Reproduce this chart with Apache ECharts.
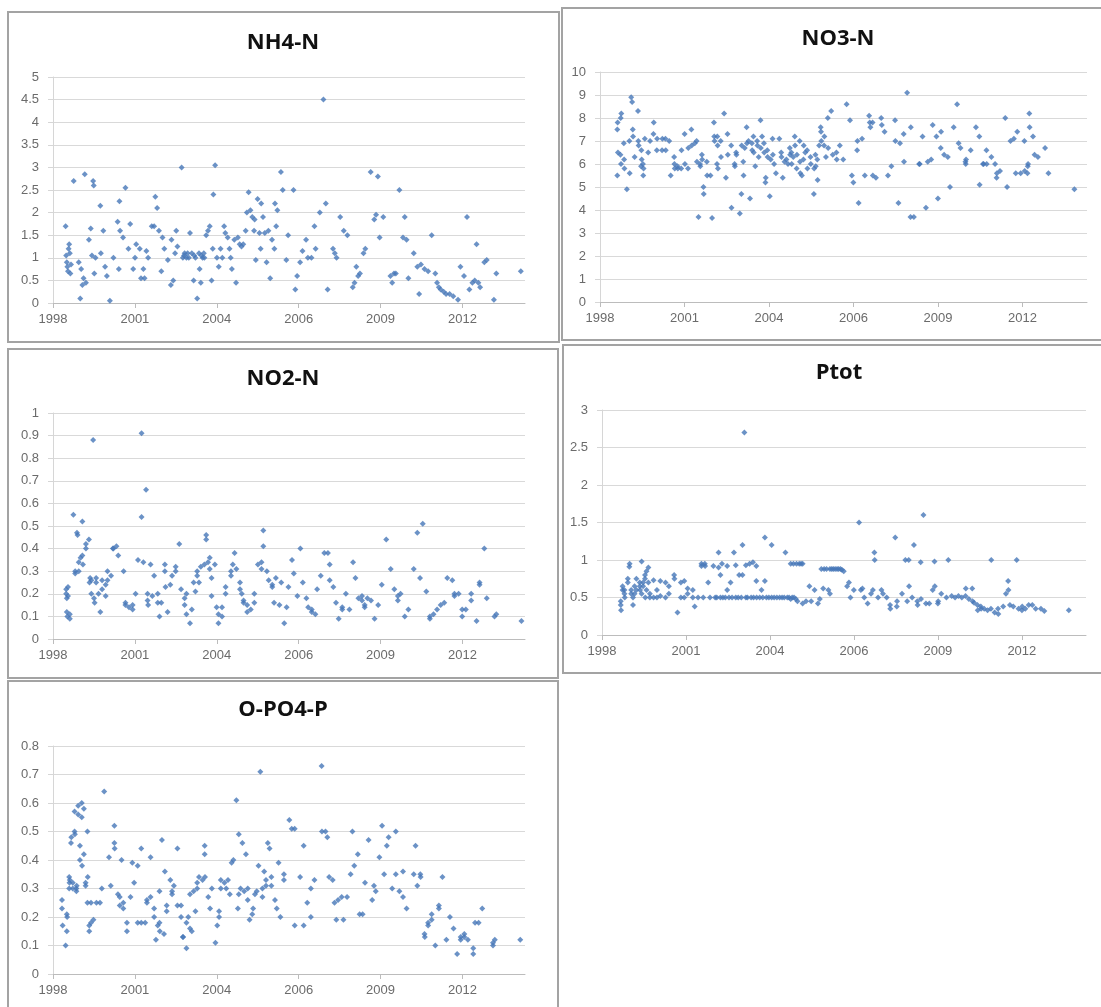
<!DOCTYPE html>
<html><head><meta charset="utf-8">
<script src="https://cdn.jsdelivr.net/npm/echarts@6/dist/echarts.min.js"></script>
<style>html,body{margin:0;padding:0;background:#fff}#c{width:1101px;height:1007px}</style>
</head><body><div id="c"></div>
<script>
// ---- data: [decimal year, value] ----
const NH4_N = [
[1998.98,1.7],[1999.0,1.05],[1999.02,0.9],[1999.04,0.8],[1999.06,0.7],[1999.08,1.2],[1999.1,1.3],[1999.12,1.1],[1999.14,0.65],[1999.16,0.85],
[1999.25,2.7],[1999.42,0.9],[1999.47,0.1],[1999.5,0.75],[1999.54,0.4],[1999.58,0.55],[1999.62,2.85],[1999.66,0.45],
[1999.76,1.4],[1999.82,1.65],[1999.86,1.05],[1999.9,2.7],[1999.92,2.6],[1999.94,0.65],[1999.98,1.0],
[2000.14,2.15],[2000.16,1.1],[2000.24,1.6],[2000.3,0.8],[2000.36,0.6],[2000.46,0.05],[2000.58,1.0],
[2000.72,1.8],[2000.76,0.75],[2000.78,2.25],[2000.8,1.6],[2000.9,1.45],[2000.98,2.55],[2001.08,1.2],[2001.14,1.75],[2001.24,0.75],[2001.3,1.0],[2001.34,1.3],[2001.46,1.2],[2001.5,0.55],[2001.58,0.75],[2001.62,0.55],[2001.68,1.15],[2001.74,1.0],
[2001.86,1.7],[2001.94,1.7],[2001.98,2.35],[2002.04,2.1],[2002.1,1.6],[2002.18,0.7],[2002.22,1.45],[2002.28,1.2],[2002.4,0.95],[2002.5,0.4],[2002.52,1.4],[2002.58,0.5],[2002.64,1.1],[2002.68,1.6],[2002.72,1.25],[2002.86,3.0],[2002.9,1.0],[2002.94,1.05],[2002.96,1.1],[2003.02,1.0],[2003.06,1.1],[2003.1,1.0],[2003.14,1.55],[2003.2,1.1],[2003.26,0.5],[2003.28,1.05],[2003.32,1.0],[2003.38,0.1],[2003.44,1.1],[2003.46,0.75],[2003.5,0.45],[2003.52,1.05],[2003.56,1.0],[2003.6,1.1],[2003.62,1.0],[2003.68,1.5],[2003.74,1.6],[2003.8,1.7],[2003.86,0.5],[2003.9,1.2],[2003.92,2.4],[2003.98,3.05],
[2004.04,1.0],[2004.1,0.8],[2004.16,1.2],[2004.22,1.0],[2004.28,1.7],[2004.32,1.55],[2004.4,1.45],[2004.46,1.2],[2004.5,1.0],[2004.54,0.75],[2004.62,1.4],[2004.68,0.45],[2004.74,1.45],[2004.8,1.3],[2004.86,1.25],[2004.92,1.3],[2005.0,1.6],[2005.04,2.0],[2005.1,2.45],[2005.16,2.05],[2005.22,1.9],[2005.28,1.6],[2005.3,1.85],[2005.34,0.95],[2005.4,2.3],[2005.46,1.55],[2005.5,1.2],[2005.52,2.2],[2005.58,1.9],[2005.64,1.55],[2005.7,0.9],[2005.76,1.6],[2005.82,0.55],[2005.88,1.4],[2005.96,1.2],[2005.98,2.2],
[2006.02,1.7],[2006.06,2.05],[2006.18,2.9],[2006.24,2.5],[2006.36,0.95],[2006.42,1.5],[2006.6,2.5],[2006.66,0.3],[2006.72,0.6],[2006.82,0.9],[2006.9,1.15],[2007.02,1.4],[2007.08,1.0],[2007.2,1.0],[2007.3,1.7],[2007.34,1.2],[2007.48,2.0],[2007.6,4.5],[2007.68,2.2],[2007.74,0.3],[2007.92,1.2],[2007.98,1.1],[2008.04,1.0],[2008.16,1.9],[2008.28,1.6],[2008.4,1.5],[2008.58,0.35],[2008.64,0.45],[2008.7,0.8],[2008.76,0.6],[2008.82,0.65],[2008.94,1.1],
[2009.0,1.2],[2009.18,2.9],[2009.3,1.85],[2009.36,1.95],[2009.42,2.8],[2009.48,1.45],[2009.6,1.9],[2009.84,0.6],[2009.9,0.45],[2009.96,0.65],[2010.02,0.65],[2010.14,2.5],[2010.26,1.45],[2010.32,1.9],[2010.38,1.4],[2010.44,0.55],[2010.62,1.1],[2010.74,0.8],[2010.8,0.2],[2010.86,0.85],[2010.98,0.75],[2011.1,0.7],[2011.22,1.5],[2011.34,0.65],[2011.4,0.45],[2011.46,0.35],[2011.52,0.3],[2011.62,0.25],[2011.7,0.2],[2011.82,0.2],[2011.94,0.15],
[2012.1,0.07],[2012.18,0.8],[2012.3,0.6],[2012.4,1.9],[2012.48,0.3],[2012.58,0.45],[2012.66,0.5],[2012.72,1.3],[2012.78,0.45],[2012.84,0.35],[2012.98,0.9],[2013.06,0.95],[2013.3,0.07],[2013.38,0.65],[2014.2,0.7]
];

const NO3_N = [
[1999.12,7.5],[1999.13,7.8],[1999.14,6.5],[1999.12,5.5],[1999.23,8.0],[1999.25,8.2],[1999.22,6.4],[1999.24,6.0],[1999.34,6.2],[1999.35,5.8],[1999.33,6.9],
[1999.43,4.9],[1999.51,7.0],[1999.52,5.6],[1999.57,8.9],[1999.6,8.7],[1999.62,7.5],[1999.63,7.2],[1999.68,6.3],[1999.79,8.3],[1999.8,7.0],[1999.81,6.8],[1999.9,6.6],[1999.91,6.2],[1999.89,5.9],[1999.96,5.5],[1999.97,5.8],[1999.95,6.0],
[2000.01,7.1],[2000.12,6.5],[2000.18,7.0],[2000.29,7.3],[2000.3,7.8],[2000.4,6.6],[2000.41,7.1],[2000.57,6.6],[2000.58,7.1],[2000.68,7.1],[2000.69,6.6],[2000.8,7.0],[2000.85,5.5],[2000.96,6.3],[2000.97,6.0],[2000.98,5.8],
[2001.07,5.9],[2001.08,5.8],[2001.19,5.8],[2001.2,6.6],[2001.3,7.3],[2001.31,6.0],[2001.41,5.8],[2001.42,6.7],[2001.52,7.5],[2001.53,6.8],[2001.63,6.9],[2001.69,7.0],[2001.7,6.1],[2001.75,3.7],[2001.8,6.0],[2001.81,5.9],[2001.86,6.4],[2001.87,6.2],[2001.91,5.0],[2001.92,4.7],
[2002.02,6.1],[2002.03,5.5],[2002.14,5.5],[2002.19,3.65],[2002.25,7.8],[2002.26,7.2],[2002.27,7.0],[2002.36,7.2],[2002.37,6.8],[2002.35,6.0],[2002.38,5.8],[2002.47,7.0],[2002.48,6.3],[2002.58,8.2],[2002.64,5.4],[2002.69,7.3],[2002.7,6.4],[2002.81,6.8],[2002.82,4.1],[2002.92,6.0],[2002.93,5.9],[2002.97,6.5],[2002.98,6.4],
[2003.09,3.85],[2003.14,4.7],[2003.15,6.8],[2003.2,6.1],[2003.21,5.5],[2003.25,6.7],[2003.31,7.6],[2003.32,6.9],[2003.37,7.0],[2003.42,4.5],[2003.48,6.9],[2003.49,6.6],[2003.53,7.2],[2003.54,6.5],[2003.59,5.9],[2003.65,7.0],[2003.66,6.8],[2003.7,6.3],[2003.76,7.9],[2003.77,6.7],[2003.81,7.2],[2003.87,6.9],[2003.88,6.5],[2003.92,5.2],[2003.93,5.4],[2003.98,6.6],[2003.99,6.3],
[2004.06,4.6],[2004.09,6.2],[2004.15,7.1],[2004.16,6.4],[2004.2,6.0],[2004.26,5.6],[2004.37,7.1],[2004.43,6.5],[2004.44,6.3],[2004.48,5.4],[2004.54,6.1],[2004.6,6.2],[2004.65,6.0],[2004.71,6.7],[2004.72,6.4],[2004.76,6.5],[2004.77,6.0],[2004.82,6.3],[2004.87,7.2],[2004.88,6.8],[2004.93,5.8],[2004.94,6.4],
[2005.04,6.1],[2005.05,5.6],[2005.03,7.0],[2005.1,5.5],[2005.15,6.2],[2005.16,6.8],[2005.21,6.5],[2005.27,6.6],[2005.28,5.8],[2005.38,6.3],[2005.39,6.0],[2005.49,4.7],[2005.5,5.8],[2005.54,6.4],[2005.55,5.9],[2005.6,6.2],[2005.61,5.3],[2005.66,6.8],[2005.71,7.6],[2005.72,7.4],[2005.73,7.0],[2005.82,6.8],[2005.83,7.2],[2005.88,6.3],[2005.94,8.0],[2005.95,6.7],
[2006.05,8.3],[2006.1,6.4],[2006.22,6.5],[2006.23,6.2],[2006.33,6.8],[2006.44,6.2],[2006.55,8.6],[2006.66,7.9],[2006.72,5.5],[2006.77,5.2],[2006.89,6.6],[2006.9,7.0],[2006.94,4.3],[2007.05,7.1],[2007.14,5.5],[2007.28,8.1],[2007.3,7.8],[2007.32,7.6],[2007.39,7.8],[2007.4,5.5],[2007.5,5.4],[2007.67,8.0],[2007.69,7.7],[2007.78,7.4],[2007.89,5.5],
[2008.0,5.9],[2008.12,7.9],[2008.13,7.0],[2008.23,4.3],[2008.28,6.9],[2008.4,7.3],[2008.41,6.1],[2008.51,9.1],[2008.62,3.7],[2008.63,7.6],[2008.73,3.7],[2008.9,6.0],[2008.92,6.0],
[2009.01,7.2],[2009.12,4.1],[2009.18,6.1],[2009.29,6.2],[2009.34,7.7],[2009.46,7.2],[2009.51,4.5],[2009.6,6.7],[2009.61,7.4],[2009.71,6.4],[2009.83,6.3],[2009.9,5.0],
[2010.02,7.6],[2010.13,8.6],[2010.18,6.9],[2010.24,6.7],[2010.4,6.1],[2010.41,6.0],[2010.42,6.2],[2010.57,6.6],[2010.74,7.6],[2010.85,7.2],[2010.86,5.1],[2010.97,6.0],[2010.99,6.0],
[2011.08,6.6],[2011.09,6.0],[2011.24,6.3],[2011.36,6.0],[2011.41,5.4],[2011.42,5.6],[2011.52,5.7],[2011.69,8.0],[2011.75,5.0],[2011.86,7.0],[2011.97,7.1],
[2012.03,5.6],[2012.08,7.4],[2012.19,5.6],[2012.31,7.0],[2012.32,5.7],[2012.42,5.9],[2012.41,5.6],[2012.43,6.0],[2012.47,8.2],[2012.48,7.6],[2012.59,7.2],[2012.64,6.4],[2012.75,6.3],[2012.98,6.7],[2013.09,5.6],[2013.93,4.9]
];

const NO2_N = [
[1999.0,0.2],[1999.0,0.22],[1999.02,0.18],[1999.02,0.12],[1999.04,0.1],[1999.06,0.23],[1999.06,0.19],[1999.12,0.11],[1999.12,0.09],[1999.24,0.55],[1999.3,0.29],[1999.3,0.3],[1999.36,0.47],[1999.38,0.46],[1999.42,0.34],[1999.42,0.3],[1999.48,0.36],[1999.54,0.52],[1999.54,0.37],[1999.56,0.33],[1999.66,0.4],[1999.66,0.42],[1999.76,0.44],[1999.78,0.25],[1999.8,0.27],[1999.84,0.2],[1999.84,0.26],[1999.9,0.88],[1999.93,0.18],[1999.95,0.16],
[2000.0,0.27],[2000.0,0.25],[2000.08,0.2],[2000.14,0.12],[2000.2,0.22],[2000.2,0.26],[2000.32,0.24],[2000.32,0.19],[2000.38,0.26],[2000.38,0.3],[2000.5,0.28],[2000.56,0.4],[2000.58,0.4],[2000.68,0.41],[2000.74,0.37],[2000.92,0.3],[2000.98,0.16],[2000.98,0.15],
[2001.1,0.14],[2001.22,0.15],[2001.22,0.13],[2001.32,0.2],[2001.4,0.35],[2001.52,0.91],[2001.52,0.54],[2001.58,0.34],[2001.67,0.66],[2001.72,0.2],[2001.72,0.17],[2001.74,0.15],[2001.82,0.33],[2001.88,0.19],[2001.94,0.28],
[2002.06,0.2],[2002.06,0.16],[2002.12,0.1],[2002.18,0.16],[2002.3,0.3],[2002.3,0.33],[2002.32,0.23],[2002.39,0.12],[2002.48,0.24],[2002.54,0.28],[2002.66,0.32],[2002.66,0.3],[2002.78,0.42],[2002.84,0.22],[2002.96,0.18],[2002.96,0.15],
[2003.02,0.2],[2003.02,0.11],[2003.14,0.07],[2003.2,0.13],[2003.26,0.25],[2003.32,0.21],[2003.38,0.28],[2003.38,0.3],[2003.44,0.25],[2003.5,0.32],[2003.62,0.33],[2003.68,0.46],[2003.68,0.44],[2003.74,0.34],[2003.8,0.36],[2003.8,0.31],[2003.86,0.27],[2003.86,0.19],[2003.97,0.33],
[2004.03,0.14],[2004.09,0.11],[2004.09,0.07],[2004.21,0.14],[2004.21,0.1],[2004.33,0.23],[2004.33,0.2],[2004.51,0.3],[2004.51,0.28],[2004.57,0.33],[2004.63,0.38],[2004.69,0.31],[2004.81,0.25],[2004.81,0.22],[2004.87,0.2],[2004.93,0.16],[2004.93,0.17],
[2005.05,0.15],[2005.05,0.12],[2005.17,0.13],[2005.29,0.2],[2005.29,0.16],[2005.41,0.33],[2005.53,0.34],[2005.53,0.31],[2005.59,0.48],[2005.59,0.41],[2005.71,0.3],[2005.77,0.26],[2005.89,0.24],[2005.89,0.23],[2005.95,0.16],
[2006.01,0.27],[2006.13,0.15],[2006.19,0.25],[2006.29,0.07],[2006.37,0.14],[2006.43,0.23],[2006.55,0.35],[2006.61,0.29],[2006.73,0.19],[2006.83,0.4],[2006.91,0.25],
[2007.03,0.18],[2007.09,0.14],[2007.21,0.12],[2007.21,0.13],[2007.33,0.11],[2007.39,0.22],[2007.51,0.28],[2007.63,0.38],[2007.75,0.38],[2007.81,0.26],[2007.81,0.33],[2007.93,0.23],
[2008.02,0.16],[2008.11,0.09],[2008.23,0.14],[2008.23,0.13],[2008.35,0.2],[2008.47,0.13],[2008.59,0.34],[2008.67,0.27],[2008.77,0.18],[2008.89,0.19],[2008.89,0.17],[2008.98,0.14],[2008.98,0.15],
[2009.07,0.18],[2009.19,0.17],[2009.31,0.09],[2009.43,0.15],[2009.55,0.24],[2009.7,0.44],[2009.85,0.31],[2009.97,0.22],
[2010.09,0.19],[2010.09,0.17],[2010.18,0.2],[2010.32,0.1],[2010.44,0.13],[2010.62,0.31],[2010.74,0.47],[2010.83,0.27],[2010.92,0.51],
[2011.04,0.21],[2011.16,0.1],[2011.16,0.09],[2011.28,0.11],[2011.4,0.13],[2011.52,0.15],[2011.64,0.16],[2011.74,0.27],[2011.91,0.26],[2011.98,0.19],[2011.98,0.2],
[2012.12,0.2],[2012.24,0.13],[2012.24,0.1],[2012.36,0.13],[2012.54,0.17],[2012.54,0.2],[2012.72,0.08],[2012.82,0.25],[2012.82,0.24],[2012.98,0.4],[2013.06,0.18],[2013.32,0.1],[2013.38,0.11],[2014.22,0.08]
];

const PTOT = [
[1999.17,0.45],[1999.17,0.4],[1999.18,0.33],[1999.23,0.65],[1999.23,0.6],[1999.29,0.55],[1999.29,0.6],[1999.3,0.5],[1999.4,0.7],[1999.4,0.75],[1999.45,0.91],[1999.46,0.95],[1999.51,0.55],[1999.51,0.6],[1999.57,0.5],[1999.57,0.4],[1999.62,0.65],[1999.62,0.55],[1999.68,0.6],[1999.68,0.75],[1999.79,0.7],[1999.79,0.65],[1999.8,0.6],[1999.85,0.98],[1999.85,0.55],[1999.9,0.7],[1999.9,0.65],[1999.96,0.8],[1999.96,0.75],[1999.97,0.5],
[2000.01,0.85],[2000.01,0.6],[2000.07,0.9],[2000.07,0.7],[2000.12,0.55],[2000.12,0.5],[2000.24,0.73],[2000.24,0.5],[2000.35,0.6],[2000.35,0.5],[2000.46,0.72],[2000.46,0.52],[2000.63,0.7],[2000.63,0.5],[2000.74,0.65],[2000.74,0.55],[2000.91,0.8],[2000.92,0.75],
[2001.02,0.3],[2001.13,0.7],[2001.13,0.5],[2001.24,0.72],[2001.24,0.5],[2001.35,0.62],[2001.35,0.55],[2001.52,0.6],[2001.52,0.5],[2001.58,0.38],[2001.69,0.5],[2001.8,0.92],[2001.8,0.95],[2001.86,0.5],[2001.91,0.95],[2001.92,0.92],
[2002.02,0.7],[2002.08,0.5],[2002.19,0.92],[2002.25,0.5],[2002.3,0.5],[2002.36,1.1],[2002.36,0.9],[2002.42,0.5],[2002.42,0.8],[2002.47,0.95],[2002.5,0.5],[2002.58,0.5],[2002.64,0.92],[2002.64,0.6],[2002.7,0.5],[2002.75,0.7],[2002.8,0.5],[2002.86,1.1],[2002.92,0.93],[2002.92,0.5],
[2003.0,0.5],[2003.03,0.8],[2003.1,0.5],[2003.14,1.2],[2003.14,0.8],[2003.2,2.7],[2003.25,0.93],[2003.25,0.5],[2003.3,0.5],[2003.37,0.95],[2003.42,0.5],[2003.48,0.97],[2003.5,0.5],[2003.59,0.92],[2003.59,0.72],[2003.6,0.5],[2003.7,0.5],[2003.76,0.6],[2003.8,0.5],[2003.87,1.3],[2003.87,0.72],[2003.92,0.5],
[2004.0,0.5],[2004.09,1.2],[2004.09,0.5],[2004.17,0.5],[2004.26,0.5],[2004.35,0.5],[2004.43,0.5],[2004.5,0.5],[2004.54,1.1],[2004.6,0.5],[2004.66,0.5],[2004.71,0.95],[2004.71,0.48],[2004.76,0.5],[2004.8,0.95],[2004.82,0.5],[2004.88,0.48],[2004.9,0.95],[2004.93,0.45],[2004.99,0.95],
[2005.05,0.95],[2005.1,0.95],[2005.1,0.42],[2005.21,0.45],[2005.32,0.65],[2005.38,0.45],[2005.49,0.6],[2005.6,0.42],[2005.66,0.48],[2005.71,0.88],[2005.77,0.62],[2005.8,0.88],[2005.88,0.88],[2005.94,0.6],[2005.99,0.55],[2005.99,0.88],
[2006.05,0.88],[2006.1,0.88],[2006.16,0.88],[2006.22,0.88],[2006.27,0.88],[2006.33,0.88],[2006.38,0.87],[2006.44,0.85],[2006.55,0.65],[2006.61,0.7],[2006.66,0.5],[2006.77,0.6],[2006.94,1.5],
[2007.0,0.6],[2007.05,0.62],[2007.11,0.5],[2007.22,0.42],[2007.33,0.55],[2007.39,0.6],[2007.44,1.1],[2007.45,1.0],[2007.56,0.5],[2007.67,0.6],[2007.72,0.55],[2007.84,0.5],[2007.95,0.4],[2007.96,0.35],
[2008.12,1.3],[2008.17,0.38],[2008.18,0.45],[2008.34,0.55],[2008.45,1.0],[2008.51,0.45],[2008.56,1.0],[2008.57,0.65],[2008.67,0.5],[2008.73,1.2],[2008.84,0.45],[2008.85,0.4],[2008.95,0.97],[2008.96,0.48],
[2009.04,1.6],[2009.12,0.42],[2009.23,0.42],[2009.34,0.6],[2009.4,0.98],[2009.41,0.65],[2009.51,0.42],[2009.52,0.45],[2009.62,0.55],[2009.79,0.5],[2009.85,1.0],[2009.96,0.52],
[2010.07,0.5],[2010.18,0.52],[2010.29,0.5],[2010.41,0.52],[2010.42,0.62],[2010.52,0.48],[2010.63,0.62],[2010.64,0.45],[2010.69,0.43],[2010.8,0.4],[2010.81,0.33],[2010.91,0.38],[2010.92,0.35],
[2011.02,0.35],[2011.13,0.33],[2011.24,0.35],[2011.25,1.0],[2011.36,0.3],[2011.47,0.35],[2011.48,0.28],[2011.64,0.38],[2011.73,0.55],[2011.8,0.72],[2011.81,0.6],[2011.86,0.4],[2011.97,0.38],
[2012.08,1.0],[2012.14,0.35],[2012.25,0.33],[2012.26,0.38],[2012.36,0.35],[2012.47,0.4],[2012.59,0.4],[2012.7,0.35],[2012.87,0.35],[2012.98,0.32],[2013.78,0.33]
];

const O_PO4_P = [
[1998.86,0.26],[1998.86,0.23],[1998.88,0.17],[1998.98,0.1],[1999.02,0.15],[1999.02,0.21],[1999.03,0.2],[1999.1,0.3],[1999.1,0.34],[1999.11,0.32],[1999.12,0.33],[1999.16,0.46],[1999.17,0.48],[1999.22,0.32],[1999.22,0.3],[1999.28,0.57],[1999.28,0.5],[1999.29,0.49],[1999.34,0.29],[1999.34,0.3],[1999.35,0.31],[1999.4,0.59],[1999.4,0.56],[1999.46,0.4],[1999.46,0.45],[1999.52,0.55],[1999.52,0.6],[1999.53,0.38],[1999.59,0.58],[1999.59,0.42],[1999.65,0.31],[1999.65,0.32],[1999.71,0.5],[1999.71,0.25],[1999.72,0.34],[1999.77,0.17],[1999.77,0.15],[1999.83,0.18],[1999.83,0.25],[1999.91,0.19],
[2000.01,0.25],[2000.13,0.25],[2000.19,0.3],[2000.27,0.64],[2000.43,0.41],[2000.49,0.31],[2000.61,0.52],[2000.61,0.46],[2000.62,0.44],[2000.73,0.28],[2000.79,0.27],[2000.79,0.24],[2000.85,0.4],[2000.91,0.23],[2000.91,0.25],
[2001.03,0.15],[2001.03,0.18],[2001.15,0.27],[2001.21,0.39],[2001.27,0.32],[2001.39,0.38],[2001.39,0.18],[2001.51,0.44],[2001.51,0.18],[2001.64,0.18],[2001.7,0.26],[2001.7,0.25],[2001.82,0.41],[2001.82,0.27],[2001.94,0.2],[2001.94,0.23],
[2002.0,0.12],[2002.06,0.17],[2002.12,0.18],[2002.12,0.29],[2002.13,0.15],[2002.2,0.47],[2002.27,0.14],[2002.3,0.36],[2002.36,0.22],[2002.36,0.24],[2002.48,0.33],[2002.54,0.29],[2002.54,0.28],[2002.6,0.31],[2002.72,0.44],[2002.72,0.24],[2002.84,0.2],[2002.84,0.24],[2002.9,0.13],[2002.91,0.13],
[2003.02,0.09],[2003.02,0.18],[2003.08,0.2],[2003.14,0.28],[2003.14,0.16],[2003.2,0.15],[2003.26,0.29],[2003.32,0.22],[2003.38,0.3],[2003.38,0.32],[2003.44,0.34],[2003.56,0.33],[2003.63,0.45],[2003.63,0.42],[2003.64,0.34],[2003.75,0.27],[2003.81,0.23],[2003.87,0.3],[2003.99,0.11],
[2004.05,0.17],[2004.11,0.2],[2004.11,0.22],[2004.17,0.33],[2004.17,0.3],[2004.29,0.32],[2004.35,0.3],[2004.41,0.33],[2004.47,0.28],[2004.53,0.39],[2004.59,0.4],[2004.69,0.61],[2004.74,0.23],[2004.77,0.49],[2004.77,0.28],[2004.83,0.3],[2004.89,0.46],[2004.95,0.29],
[2005.01,0.42],[2005.07,0.3],[2005.07,0.26],[2005.13,0.19],[2005.22,0.21],[2005.25,0.23],[2005.31,0.28],[2005.37,0.29],[2005.43,0.38],[2005.49,0.71],[2005.56,0.3],[2005.56,0.27],[2005.62,0.36],[2005.68,0.33],[2005.68,0.31],[2005.74,0.46],[2005.8,0.44],[2005.86,0.31],[2005.86,0.34],[2005.98,0.26],
[2006.04,0.23],[2006.1,0.39],[2006.16,0.2],[2006.28,0.35],[2006.28,0.33],[2006.46,0.54],[2006.54,0.51],[2006.64,0.51],[2006.64,0.17],[2006.82,0.34],[2006.94,0.45],[2006.94,0.17],
[2007.06,0.25],[2007.18,0.3],[2007.18,0.2],[2007.3,0.33],[2007.54,0.73],[2007.55,0.5],[2007.67,0.5],[2007.73,0.48],[2007.79,0.34],[2007.91,0.33],[2007.97,0.25],
[2008.03,0.19],[2008.09,0.26],[2008.21,0.27],[2008.27,0.19],[2008.39,0.27],[2008.51,0.35],[2008.57,0.5],[2008.63,0.38],[2008.75,0.42],[2008.81,0.21],[2008.91,0.21],[2008.99,0.32],
[2009.11,0.47],[2009.23,0.26],[2009.29,0.31],[2009.35,0.29],[2009.47,0.41],[2009.56,0.52],[2009.63,0.35],[2009.72,0.45],[2009.78,0.48],[2009.9,0.3],
[2010.02,0.5],[2010.02,0.35],[2010.14,0.29],[2010.26,0.36],[2010.26,0.27],[2010.38,0.23],[2010.62,0.35],[2010.68,0.45],[2010.74,0.31],[2010.84,0.35],[2010.85,0.34],[2010.98,0.14],[2010.99,0.13],
[2011.1,0.17],[2011.1,0.18],[2011.22,0.21],[2011.22,0.19],[2011.34,0.1],[2011.46,0.24],[2011.46,0.23],[2011.58,0.34],[2011.71,0.12],[2011.83,0.2],[2011.95,0.16],
[2012.07,0.07],[2012.19,0.12],[2012.19,0.13],[2012.31,0.14],[2012.31,0.13],[2012.43,0.12],[2012.61,0.07],[2012.61,0.09],[2012.67,0.18],[2012.79,0.18],[2012.91,0.23],[2013.27,0.11],[2013.27,0.1],[2013.33,0.12],[2014.18,0.12]
];

const X_TICK_LABELS = ['1998', '2001', '2004', '2006', '2009', '2012'];
const TITLES = ['NH4-N', 'NO3-N', 'NO2-N', 'Ptot', 'O-PO4-P'];

// ---- layout / rendering ----
// decimal year -> day serial (days since 1899-12-30)
function toSerial(y) { return (y - 1900) * 365.25 + 1.5; }
const X_MIN = 36000, X_STEP = 1000, X_MAX = 41764;
const X_TICKS = X_TICK_LABELS.map((_, i) => X_MIN + i * X_STEP);

const panels = [
  { title: TITLES[0], data: NH4_N,   yMax: 5,   yStep: 0.5, box: [8, 12, 551, 330],   tc: [283, 43],  grid: { left: 53,  top: 77,  width: 472, height: 226 } },
  { title: TITLES[1], data: NO3_N,   yMax: 10,  yStep: 1,   box: [562, 8, 560, 332],  tc: [838, 39],  grid: { left: 600, top: 72,  width: 487, height: 230 } },
  { title: TITLES[2], data: NO2_N,   yMax: 1,   yStep: 0.1, box: [8, 349, 550, 329],  tc: [283, 379], grid: { left: 53,  top: 413, width: 472, height: 226 } },
  { title: TITLES[3], data: PTOT,    yMax: 3,   yStep: 0.5, box: [563, 345, 560, 328], tc: [839, 373], grid: { left: 602, top: 410, width: 484, height: 225 } },
  { title: TITLES[4], data: O_PO4_P, yMax: 0.8, yStep: 0.1, box: [8, 681, 550, 340],  tc: [283, 710], grid: { left: 53,  top: 746, width: 472, height: 228 } }
];

const labelStyle = { color: '#6b6b6b', fontSize: 13, fontFamily: 'Liberation Sans, Arial, sans-serif' };

const graphics = [];
panels.forEach(p => {
  graphics.push({ type: 'rect', silent: true, shape: { x: p.box[0], y: p.box[1], width: p.box[2], height: p.box[3] },
    style: { fill: 'none', stroke: '#a3a3a3', lineWidth: 2 } });
  graphics.push({ type: 'text', silent: true, x: p.tc[0], y: p.tc[1],
    style: { text: p.title, fill: '#111', fontSize: 22, fontWeight: 'bold', fontFamily: '"Open Sans", sans-serif', align: 'center', verticalAlign: 'middle' } });
});

const chart = echarts.init(document.getElementById('c'), null, { renderer: 'canvas' });
chart.setOption({
  animation: false,
  backgroundColor: '#ffffff',
  graphic: graphics,
  grid: panels.map(p => Object.assign({ containLabel: false }, p.grid)),
  xAxis: panels.map((p, i) => ({
    type: 'value', gridIndex: i, min: X_MIN, max: X_MAX,
    axisLine: { show: true, onZero: false, lineStyle: { color: '#bcbcbc', width: 1 } },
    axisTick: { show: true, length: 5, customValues: X_TICKS, lineStyle: { color: '#bcbcbc' } },
    axisLabel: Object.assign({ margin: 10, customValues: X_TICKS,
      formatter: v => X_TICK_LABELS[Math.round((v - X_MIN) / X_STEP)] || '' }, labelStyle),
    splitLine: { show: false }
  })),
  yAxis: panels.map((p, i) => ({
    type: 'value', gridIndex: i, min: 0, max: p.yMax, interval: p.yStep,
    axisLine: { show: true, lineStyle: { color: '#d6d6d6' } },
    axisTick: { show: true, length: 5, lineStyle: { color: '#d6d6d6' } },
    axisLabel: Object.assign({ margin: 14 }, labelStyle),
    splitLine: { show: true, lineStyle: { color: '#d9d9d9', width: 1 } }
  })),
  series: panels.map((p, i) => ({
    type: 'scatter', name: p.title, xAxisIndex: i, yAxisIndex: i,
    symbol: 'diamond', symbolSize: 6,
    itemStyle: { color: '#4677b8' },
    data: p.data.map(d => [toSerial(d[0]), d[1]])
  }))
});
</script>
</body></html>
